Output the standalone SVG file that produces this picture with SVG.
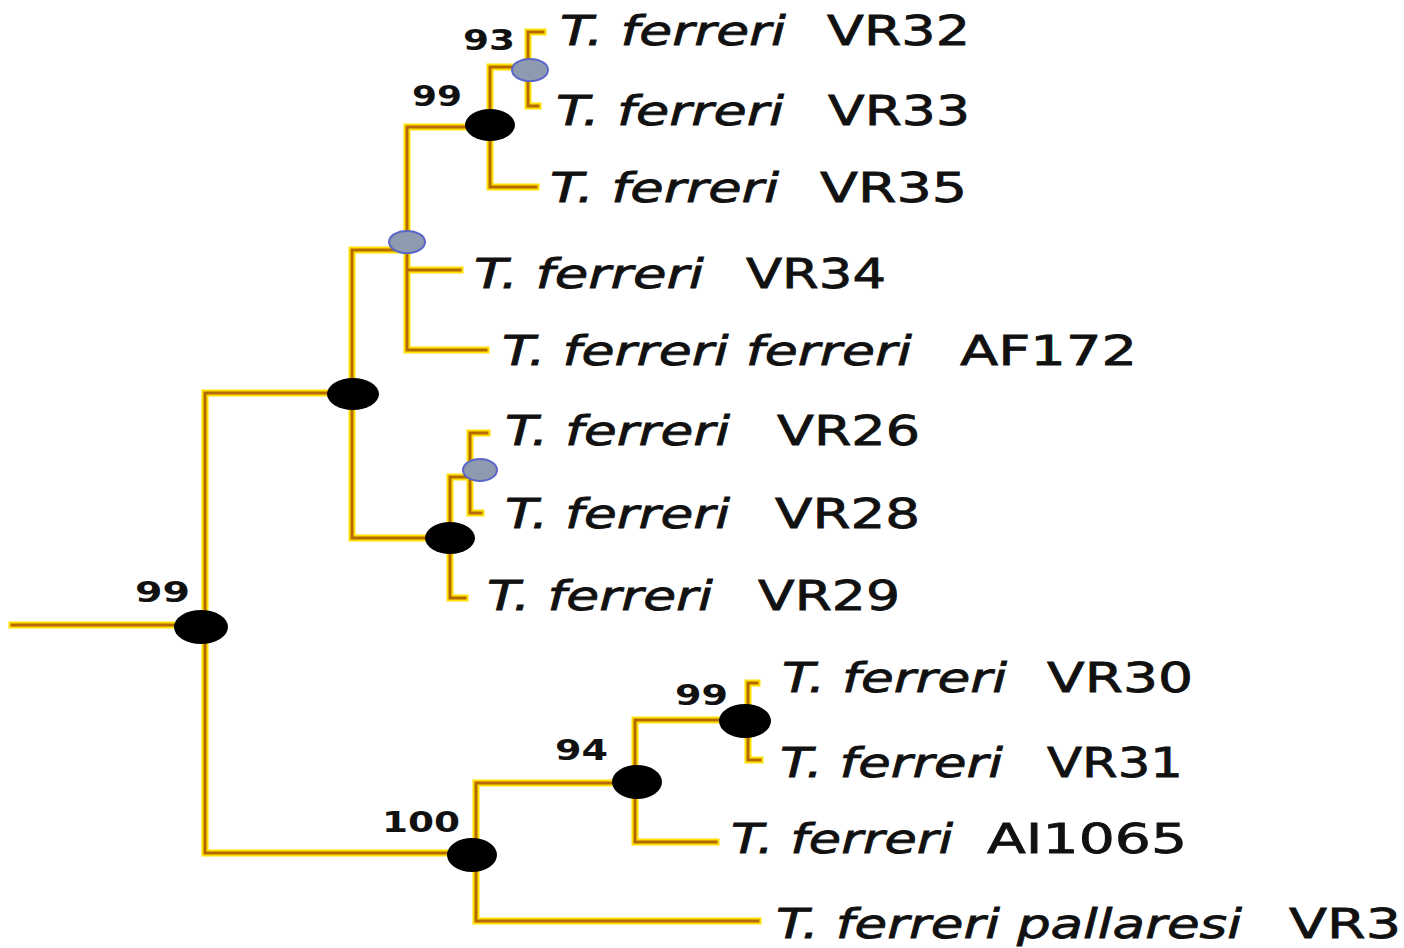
<svg xmlns="http://www.w3.org/2000/svg" xmlns:xlink="http://www.w3.org/1999/xlink" width="1404" height="948" viewBox="0 0 1404 948">
<style>
.halo{fill:none;stroke:#ffe000;stroke-width:7;stroke-linecap:square}
.core{fill:none;stroke:#b46a00;stroke-width:3;stroke-linecap:square}
.sp{font-family:"DejaVu Sans",sans-serif;font-style:italic;font-weight:normal;font-size:41px;fill:#111;stroke:#111;stroke-width:0.8}
.id{font-family:"DejaVu Sans",sans-serif;font-weight:normal;font-size:41px;fill:#111;stroke:#111;stroke-width:0.8}
.bs{font-family:"DejaVu Sans",sans-serif;font-weight:bold;font-size:29px;fill:#111}
.bn{fill:#000}
.gn{fill:#8e9ab0;stroke:#5a66c8;stroke-width:2}
</style>
<defs>
<path id="tree" d="M12,625 H205 M205,393 V853 M205,393 H352 M352,250 V538 M352,250 H407 M407,127 V350 M407,127 H490 M490,67 V187 M490,67 H528 M528,32 V106 M528,32 H543 M528,106 H538 M490,187 H536 M407,270 H460 M407,350 H486 M352,538 H450 M450,477 V598 M450,477 H470 M470,433 V513 M470,433 H487 M470,513 H481 M450,598 H465 M205,853 H476 M476,783 V921 M476,783 H635 M635,720 V842 M635,720 H748 M748,683 V760 M748,683 H757 M748,760 H760 M635,842 H716 M476,921 H758"/>
</defs>
<rect width="1404" height="948" fill="#ffffff"/>
<g id="connectors">
<use xlink:href="#tree" class="halo"/>
<use xlink:href="#tree" class="core"/>
</g>
<g id="n-root"><ellipse class="bn" cx="201" cy="627" rx="27" ry="17"/><text class="bs" x="135" y="602" textLength="55" lengthAdjust="spacingAndGlyphs">99</text></g>
<g id="n-a"><ellipse class="bn" cx="353" cy="394" rx="26" ry="16"/></g>
<g id="n-b"><ellipse class="gn" cx="407" cy="242" rx="18" ry="11"/></g>
<g id="n-c"><ellipse class="bn" cx="490" cy="125" rx="25" ry="16"/><text class="bs" x="412" y="106" textLength="50" lengthAdjust="spacingAndGlyphs">99</text></g>
<g id="n-d"><ellipse class="gn" cx="530" cy="70" rx="18" ry="11"/><text class="bs" x="463" y="50" textLength="52" lengthAdjust="spacingAndGlyphs">93</text></g>
<g id="n-e"><ellipse class="bn" cx="450" cy="538" rx="25" ry="16"/></g>
<g id="n-f"><ellipse class="gn" cx="480" cy="470" rx="17" ry="11"/></g>
<g id="n-g"><ellipse class="bn" cx="472" cy="855" rx="25" ry="17"/><text class="bs" x="382" y="832" textLength="78" lengthAdjust="spacingAndGlyphs">100</text></g>
<g id="n-h"><ellipse class="bn" cx="637" cy="782" rx="25" ry="17"/><text class="bs" x="555" y="760" textLength="53" lengthAdjust="spacingAndGlyphs">94</text></g>
<g id="n-i"><ellipse class="bn" cx="745" cy="721" rx="26" ry="17"/><text class="bs" x="675" y="705" textLength="53" lengthAdjust="spacingAndGlyphs">99</text></g>
<g id="t-vr32"><text class="sp" x="560" y="45" textLength="226" lengthAdjust="spacingAndGlyphs">T. ferreri</text><text class="id" x="827" y="45" textLength="143" lengthAdjust="spacingAndGlyphs">VR32</text></g>
<g id="t-vr33"><text class="sp" x="556" y="125" textLength="228" lengthAdjust="spacingAndGlyphs">T. ferreri</text><text class="id" x="828" y="125" textLength="142" lengthAdjust="spacingAndGlyphs">VR33</text></g>
<g id="t-vr35"><text class="sp" x="550" y="202" textLength="229" lengthAdjust="spacingAndGlyphs">T. ferreri</text><text class="id" x="820" y="202" textLength="147" lengthAdjust="spacingAndGlyphs">VR35</text></g>
<g id="t-vr34"><text class="sp" x="474" y="288" textLength="230" lengthAdjust="spacingAndGlyphs">T. ferreri</text><text class="id" x="746" y="288" textLength="140" lengthAdjust="spacingAndGlyphs">VR34</text></g>
<g id="t-af172"><text class="sp" x="502" y="365" textLength="410" lengthAdjust="spacingAndGlyphs">T. ferreri ferreri</text><text class="id" x="960" y="365" textLength="177" lengthAdjust="spacingAndGlyphs">AF172</text></g>
<g id="t-vr26"><text class="sp" x="505" y="445" textLength="225" lengthAdjust="spacingAndGlyphs">T. ferreri</text><text class="id" x="777" y="445" textLength="143" lengthAdjust="spacingAndGlyphs">VR26</text></g>
<g id="t-vr28"><text class="sp" x="505" y="528" textLength="225" lengthAdjust="spacingAndGlyphs">T. ferreri</text><text class="id" x="775" y="528" textLength="145" lengthAdjust="spacingAndGlyphs">VR28</text></g>
<g id="t-vr29"><text class="sp" x="487" y="610" textLength="226" lengthAdjust="spacingAndGlyphs">T. ferreri</text><text class="id" x="758" y="610" textLength="142" lengthAdjust="spacingAndGlyphs">VR29</text></g>
<g id="t-vr30"><text class="sp" x="782" y="692" textLength="225" lengthAdjust="spacingAndGlyphs">T. ferreri</text><text class="id" x="1047" y="692" textLength="146" lengthAdjust="spacingAndGlyphs">VR30</text></g>
<g id="t-vr31"><text class="sp" x="780" y="777" textLength="223" lengthAdjust="spacingAndGlyphs">T. ferreri</text><text class="id" x="1047" y="777" textLength="136" lengthAdjust="spacingAndGlyphs">VR31</text></g>
<g id="t-ai1065"><text class="sp" x="731" y="853" textLength="222" lengthAdjust="spacingAndGlyphs">T. ferreri</text><text class="id" x="987" y="853" textLength="200" lengthAdjust="spacingAndGlyphs">AI1065</text></g>
<g id="t-vr3"><text class="sp" x="776" y="938" textLength="466" lengthAdjust="spacingAndGlyphs">T. ferreri pallaresi</text><text class="id" x="1289" y="938" textLength="112" lengthAdjust="spacingAndGlyphs">VR3</text></g>
</svg>
